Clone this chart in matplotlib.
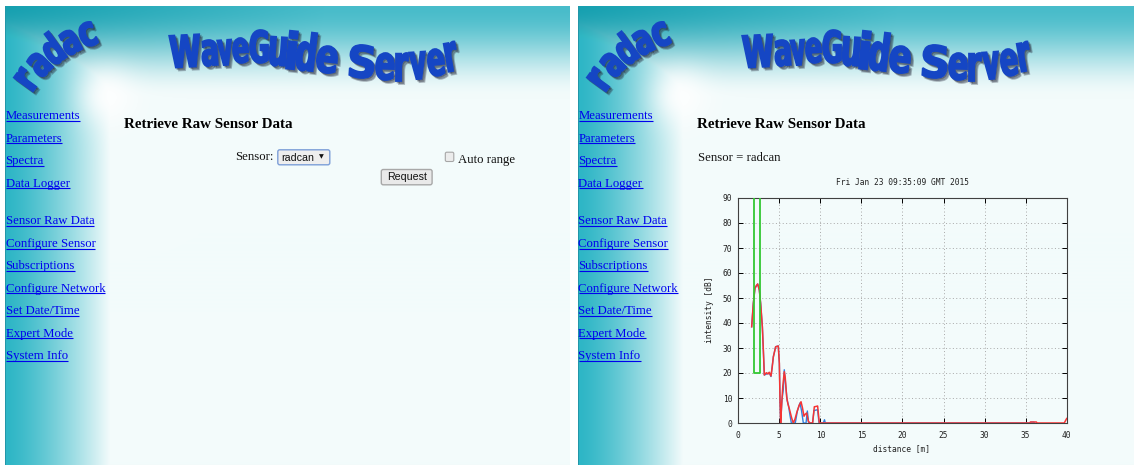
import numpy as np
import matplotlib
matplotlib.use("Agg")
import matplotlib.pyplot as plt
from matplotlib.patches import FancyBboxPatch, PathPatch
from matplotlib.textpath import TextPath
from matplotlib.font_manager import FontProperties
from matplotlib.transforms import Affine2D

# ---------------- data ----------------
dist_red = [1.63, 1.83, 2.03, 2.20, 2.36, 2.56, 2.72, 2.93, 3.05, 3.17, 3.30, 3.45, 3.62, 3.77,
            3.98, 4.12, 4.27, 4.55, 4.87, 5.00, 5.08, 5.16, 5.28, 5.42, 5.60, 5.72, 5.89, 6.05,
            6.20, 6.50, 6.70, 6.90, 7.15, 7.40, 7.64, 7.82, 8.00, 8.15, 8.33, 8.53, 8.73, 9.05,
            9.26, 9.45, 9.66, 9.87, 10.0, 35.5, 35.6, 36.3, 36.4, 39.7, 40.0]
intensity_red = [38.5, 47.9, 53.9, 55.0, 55.6, 53.2, 47.9, 38.5, 29.2, 19.2, 19.8, 20.1, 19.6,
                 20.3, 18.8, 22.0, 26.5, 30.5, 30.8, 23.9, 9.2, 0.0, 7.3, 14.7, 20.5, 18.0, 10.5,
                 7.5, 5.9, 2.0, 0.0, 1.5, 4.5, 7.0, 8.5, 6.0, 2.7, 3.5, 4.0, 0.7, 0.0, 0.0, 6.5,
                 6.6, 6.8, 0.0, 0.0, 0.0, 0.4, 0.4, 0.0, 0.0, 1.8]
dist_blue = [1.63, 1.83, 2.03, 2.36, 2.56, 2.72, 2.93, 3.05, 3.17, 3.45, 3.77, 3.98, 4.27, 4.55,
             4.87, 5.00, 5.08, 5.16, 5.32, 5.48, 5.60, 5.75, 5.95, 6.10, 6.30, 6.46, 6.94, 7.19,
             7.51, 7.70, 7.92, 8.25, 8.41, 8.57, 9.05, 9.22, 9.50, 9.66, 9.83, 10.35, 10.5, 10.6,
             35.4, 35.6, 36.0, 36.1]
intensity_blue = [38.5, 47.9, 53.9, 55.6, 53.2, 47.9, 38.5, 29.2, 19.2, 19.6, 20.0, 18.6, 26.5,
                  30.5, 30.8, 23.9, 9.2, 0.0, 9.3, 13.3, 21.3, 16.0, 9.0, 7.3, 3.0, 0.0, 0.0, 4.7,
                  8.0, 5.0, 0.0, 0.0, 4.8, 0.0, 0.0, 5.0, 5.2, 5.3, 0.0, 0.0, 1.3, 0.0,
                  0.0, 0.3, 0.3, 0.0]
gate_dist = [1.95, 1.95, 2.65, 2.65]
gate_level = [95, 20, 20, 95]
x_ticks = [0, 5, 10, 15, 20, 25, 30, 35, 40]
y_ticks = [0, 10, 20, 30, 40, 50, 60, 70, 80, 90]
chart_title = "Fri Jan 23 09:35:09 GMT 2015"
x_label = "distance [m]"
y_label = "intensity [dB]"

menu_top = ["Measurements", "Parameters", "Spectra", "Data Logger"]
menu_bottom = ["Sensor Raw Data", "Configure Sensor", "Subscriptions", "Configure Network",
               "Set Date/Time", "Expert Mode", "System Info"]
page_heading = "Retrieve Raw Sensor Data"
logo_word = "WaveGuide Server"
logo_small = "radac"

# ---------------- figure ----------------
WPX, HPX = 1134, 465
fig = plt.figure(figsize=(WPX / 100, HPX / 100), dpi=100, facecolor="white")
axp = fig.add_axes([0, 0, 1, 1])
axp.set_xlim(0, WPX)
axp.set_ylim(0, HPX)
axp.axis("off")


def Y(y):
    return HPX - y


def panel_bg(width):
    yy = np.arange(7, HPX) + 0.5
    xx = np.arange(width) + 0.5
    X, YY = np.meshgrid(xx, yy)
    bg = np.array([243, 251, 251]) / 255
    side_c = np.array([46, 182, 198]) / 255
    s = (np.clip((X - 2) / 103, 0, 1) ** 1.3)[..., None]
    side = side_c * (1 - s) + bg * s
    f = np.clip((YY - 7) / 92, 0, 1)
    sm = (3 * f ** 2 - 2 * f ** 3)[..., None]
    tx = np.clip(X / 320, 0, 1)[..., None]
    ctop = np.array([22, 160, 176]) / 255 * (1 - tx) + np.array([72, 188, 202]) / 255 * tx
    head = ctop * (1 - sm) + bg * sm
    col = np.minimum(head, side)
    d2 = (X - 102) ** 2 + (YY - 97) ** 2
    g = (0.85 * np.exp(-d2 / (2 * 20 ** 2)))[..., None]
    col = col * (1 - g) + g
    col[:, 0] = np.array([35, 150, 168]) / 255
    return np.clip(col, 0, 1)


logo_fp = FontProperties(family="DejaVu Sans", weight="bold")
BLUE = "#1546c4"


def glyph(ch, cx, cy, w, h, rot=0.0, skx=0.0, sky=0.0, lw=1.2):
    tp = TextPath((0, 0), ch, size=100, prop=logo_fp)
    ext = tp.get_extents()
    tr = (Affine2D().translate(-(ext.x0 + ext.width / 2), -(ext.y0 + ext.height / 2))
          .scale(w / ext.width, h / ext.height).skew_deg(skx, sky).rotate_deg(rot)
          .translate(cx, Y(cy)))
    path = tr.transform_path(tp)
    for off, a in ((1.5, 0.35), (3.0, 0.3)):
        axp.add_patch(PathPatch(path, transform=Affine2D().translate(off, -off) + axp.transData,
                                fc="#26283a", ec="#26283a", lw=lw, alpha=a, zorder=3))
    axp.add_patch(PathPatch(path, transform=axp.transData, fc=BLUE, ec=BLUE, lw=lw, zorder=4))


# (x0, x1, ytop, ybottom, rotation) for each letter of the big logo (left panel coords)
wg_boxes = [(170, 200, 35, 67, 3), (202, 217, 40, 66, 4), (218, 232, 40, 65, 4),
            (233, 248, 38, 63, 3), (250, 268, 30, 63, 0), (270, 286, 37, 66, -4),
            (288, 296, 31, 69, -6), (297, 315, 32, 71, -7), (317, 337, 46, 73, -7),
            (350, 374, 45, 78, -4), (376, 394, 53, 80, -2), (396, 408, 53, 81, 0),
            (410, 426, 52, 79, 4), (428, 444, 49, 76, 7), (446, 457, 42, 71, 10)]
# small arched logo: start point, per-letter rotation, width, height
radac_start = (27.0, 79.0)
radac_rot = [54, 45, 36, 27, 20]
radac_w = [13, 16, 16, 16, 15]
radac_h = [24, 24, 32, 24, 24]
radac_adv = 19.0

serif = "Liberation Serif"
sans = "Liberation Sans"
LINK = "#0000ee"
link_texts = []

menu_baselines_top = [119.3, 141.7, 164.1, 186.5]
menu_baselines_bottom = [224.5, 247.0, 269.3, 291.7, 314.0, 336.5, 358.9]


def draw_radac(dx):
    bx, by = radac_start
    prev = None
    for i, ch in enumerate(logo_small):
        th = radac_rot[i]
        if prev is not None:
            d = np.radians((th + prev) / 2)
            bx += radac_adv * np.cos(d)
            by -= radac_adv * np.sin(d)
        prev = th
        extra = (radac_h[i] - 24) / 2
        t = np.radians(th)
        cx = bx - extra * np.sin(t)
        cy = by - extra * np.cos(t)
        glyph(ch, cx + dx, cy, radac_w[i], radac_h[i], th, lw=1.4)


def draw_panel(ox, width, right):
    img = panel_bg(width)
    axp.imshow(img, extent=(ox, ox + width, Y(HPX), Y(7)), origin="upper",
               interpolation="bilinear", aspect="auto", zorder=1)
    dx = ox - 5
    letters = [c for c in logo_word if c != " "]
    for ch, (x0, x1, yt, yb, r) in zip(letters, wg_boxes):
        glyph(ch, (x0 + x1) / 2 + dx, (yt + yb) / 2, x1 - x0, yb - yt, r, lw=1.3)
    draw_radac(dx)
    for name, yb in zip(menu_top + menu_bottom, menu_baselines_top + menu_baselines_bottom):
        t = axp.text(ox + 0.5, Y(yb), name, family=serif, fontsize=9.2, color=LINK,
                     va="baseline", ha="left", zorder=5)
        link_texts.append((t, yb))
    axp.text(ox + 118.6, Y(128.0), page_heading, family=serif, fontsize=10.8,
             fontweight="bold", color="black", va="baseline", zorder=5)
    if not right:
        axp.text(235, Y(160.5), "Sensor:", family=serif, fontsize=9.2, color="#111111",
                 va="baseline", zorder=5)
        axp.add_patch(FancyBboxPatch((277.8, Y(164.8)), 52.0, 15.0,
                                     boxstyle="round,pad=0,rounding_size=2",
                                     fc="#eeeeee", ec="#7d9fd8", lw=1.0, zorder=5))
        axp.text(281, Y(161.3), "radcan", family=sans, fontsize=7.7, color="#111111",
                 va="baseline", zorder=6)
        axp.text(321.5, Y(156.5), "\u25bc", family="DejaVu Sans", fontsize=4.5,
                 color="#111111", va="center", ha="center", zorder=6)
        axp.add_patch(FancyBboxPatch((445.3, Y(161.5)), 8.5, 9.3,
                                     boxstyle="round,pad=0,rounding_size=1.5",
                                     fc="#ececec", ec="#a6a6a6", lw=0.8, zorder=5))
        axp.text(457.6, Y(162.6), "Auto range", family=serif, fontsize=9.2, color="#111111",
                 va="baseline", zorder=5)
        axp.add_patch(FancyBboxPatch((381.3, Y(184.8)), 50.8, 15.3,
                                     boxstyle="round,pad=0,rounding_size=2",
                                     fc="#e9e9e9", ec="#a8a8a8", lw=1.0, zorder=5))
        axp.text(406.7, Y(177.2), "Request", family=sans, fontsize=7.7, color="#111111",
                 va="center", ha="center", zorder=6)
    else:
        axp.text(698.3, Y(161.0), "Sensor = radcan", family=serif, fontsize=9.2,
                 color="#111111", va="baseline", zorder=5)


draw_panel(5, 565, False)
draw_panel(578, 556, True)

# underlines for links
fig.canvas.draw()
rend = fig.canvas.get_renderer()
for t, yb in link_texts:
    bb = t.get_window_extent(renderer=rend)
    axp.plot([bb.x0, bb.x1], [Y(yb + 1.6), Y(yb + 1.6)], color=LINK, lw=0.8,
             solid_capstyle="butt", zorder=5)
axp.set_xlim(0, WPX)
axp.set_ylim(0, HPX)

# ---------------- chart ----------------
ax = fig.add_axes([738.3 / WPX, 1 - 423 / HPX, 328.4 / WPX, 225 / HPX], zorder=10)
ax.set_facecolor("none")
ax.plot(dist_blue, intensity_blue, color="#2f7fe0", lw=1.0, zorder=3)
ax.plot(dist_red, intensity_red, color="#f53535", lw=1.1, zorder=4)
ax.plot(gate_dist, gate_level, color="#33c833", lw=1.3, zorder=5)
ax.set_xlim(0, 40)
ax.set_ylim(0, 90)
ax.set_xticks(x_ticks)
ax.set_yticks(y_ticks)
ax.grid(True, color="#a8a8a8", lw=0.7, ls=(0, (1, 2.5)))
ax.set_axisbelow(True)
ax.tick_params(direction="in", length=3.5, width=0.7, top=True, right=True,
               labelsize=5.7, labelcolor="#202020", labelfontfamily="DejaVu Sans Mono")
ax.tick_params(axis="x", pad=5.8)
ax.tick_params(axis="y", pad=4.3)
for sp in ax.spines.values():
    sp.set_color("#404040")
    sp.set_linewidth(0.8)
mono = dict(fontsize=5.7, family="DejaVu Sans Mono", color="#202020")
ax.set_title(chart_title, y=1.068, va="center", pad=0, **mono)
ax.set_xlabel(x_label, va="center", **mono)
ax.xaxis.set_label_coords(0.498, -0.1156)
ax.set_ylabel(y_label, va="center", **mono)
ax.yaxis.set_label_coords(-0.0892, 0.502)

fig.savefig("out.png", dpi=100, facecolor="white")
